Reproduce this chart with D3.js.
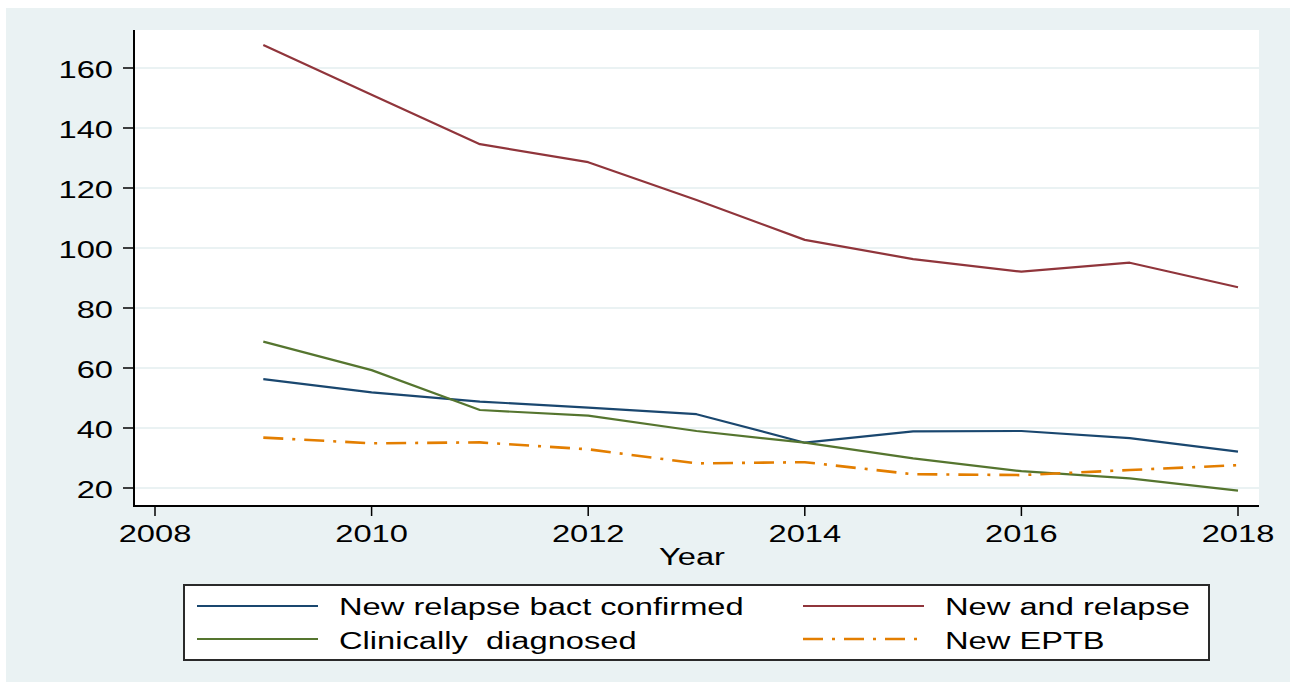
<!DOCTYPE html>
<html>
<head>
<meta charset="utf-8">
<script src="https://cdn.jsdelivr.net/npm/d3@7"></script>
<style>
  html, body { margin: 0; padding: 0; background: #ffffff; }
  svg { display: block; }
  text { font-family: "Liberation Sans", Arial, sans-serif; fill: #000; }
</style>
</head>
<body>
<svg id="chart" width="1290" height="682"></svg>
<script>
// Case notification rates by year
const years = [2009, 2010, 2011, 2012, 2013, 2014, 2015, 2016, 2017, 2018];
const bactConfirmed = [56.3, 51.9, 48.8, 46.8, 44.6, 35.1, 38.9, 39.0, 36.6, 32.1];
const newAndRelapse = [167.7, 151.1, 134.6, 128.6, 116.0, 102.7, 96.3, 92.1, 95.1, 86.9];
const clinicallyDiag = [68.8, 59.3, 46.0, 44.1, 39.0, 35.1, 29.9, 25.6, 23.2, 19.1];
const newEPTB = [36.8, 34.9, 35.2, 32.9, 28.2, 28.6, 24.6, 24.3, 26.0, 27.6];

const xTicks = [2008, 2010, 2012, 2014, 2016, 2018];
const yTicks = [20, 40, 60, 80, 100, 120, 140, 160];

const seriesNames = ["New relapse bact confirmed", "New and relapse", "Clinically  diagnosed", "New EPTB"];

const W = 1290, H = 682;
const plot = { left: 134, right: 1259, top: 30, bottom: 506 };
const stretch = 1.42; // wide glyph proportions
const fontSize = 23;

const svg = d3.select("#chart");

// graph background
svg.append("rect").attr("x", 6).attr("y", 8).attr("width", W - 6).attr("height", H - 8)
  .attr("fill", "#eaf2f3");
// plot region
svg.append("rect").attr("x", plot.left).attr("y", plot.top)
  .attr("width", plot.right - plot.left).attr("height", plot.bottom - plot.top)
  .attr("fill", "#ffffff");

const x = d3.scaleLinear().domain([2008, 2018]).range([155, 1238]);
const y = d3.scaleLinear().domain([20, 160]).range([488, 68]);

function label(g, str, px, py, anchor) {
  return g.append("text")
    .attr("transform", `translate(${px},${py}) scale(${stretch},1)`)
    .attr("text-anchor", anchor)
    .attr("font-size", fontSize)
    .text(str);
}

// gridlines
svg.append("g").selectAll("line").data(yTicks).join("line")
  .attr("x1", plot.left + 1).attr("x2", plot.right)
  .attr("y1", d => y(d)).attr("y2", d => y(d))
  .attr("stroke", "#eaf2f3").attr("stroke-width", 2);

// y axis
const yAxis = svg.append("g");
yAxis.append("line").attr("x1", plot.left).attr("x2", plot.left)
  .attr("y1", plot.top).attr("y2", plot.bottom + 1)
  .attr("stroke", "#000").attr("stroke-width", 2);
yAxis.selectAll("line.tick").data(yTicks).join("line").attr("class", "tick")
  .attr("x1", 123).attr("x2", plot.left).attr("y1", d => y(d)).attr("y2", d => y(d))
  .attr("stroke", "#000").attr("stroke-width", 1.5);
yTicks.forEach(t => label(yAxis, String(t), 113, y(t) + 10, "end"));

// x axis
const xAxis = svg.append("g");
xAxis.append("line").attr("x1", plot.left - 1).attr("x2", plot.right)
  .attr("y1", plot.bottom).attr("y2", plot.bottom)
  .attr("stroke", "#000").attr("stroke-width", 2);
xAxis.selectAll("line.tick").data(xTicks).join("line").attr("class", "tick")
  .attr("x1", d => x(d)).attr("x2", d => x(d)).attr("y1", plot.bottom).attr("y2", 516)
  .attr("stroke", "#000").attr("stroke-width", 1.5);
xTicks.forEach(t => label(xAxis, String(t), x(t), 542, "middle"));
label(xAxis, "Year", 692, 565, "middle");

// series
const series = [
  { name: seriesNames[0], values: bactConfirmed, color: "#1a476f", dash: null, w: 2.2 },
  { name: seriesNames[1], values: newAndRelapse, color: "#90353b", dash: null, w: 2.2 },
  { name: seriesNames[2], values: clinicallyDiag, color: "#55752f", dash: null, w: 2.2 },
  { name: seriesNames[3], values: newEPTB, color: "#e37e00", dash: "20,9,3,9", w: 2.6 }
];

const line = d3.line().x(d => x(d[0])).y(d => y(d[1]));
const lines = svg.append("g");
series.forEach(s => {
  lines.append("path")
    .datum(years.map((yr, i) => [yr, s.values[i]]))
    .attr("d", line)
    .attr("fill", "none")
    .attr("stroke", s.color)
    .attr("stroke-width", s.w)
    .attr("stroke-linejoin", "round")
    .attr("stroke-dasharray", s.dash);
});

// legend
const legend = svg.append("g");
legend.append("rect").attr("x", 184).attr("y", 585).attr("width", 1025).attr("height", 75)
  .attr("fill", "#ffffff").attr("stroke", "#2a2a2a").attr("stroke-width", 2);
const legendPos = [
  { s: series[0], lx: 197, ty: 615, ly: 606 },
  { s: series[1], lx: 803, ty: 615, ly: 606 },
  { s: series[2], lx: 197, ty: 649, ly: 639 },
  { s: series[3], lx: 803, ty: 649, ly: 639 }
];
legendPos.forEach(p => {
  legend.append("line").attr("x1", p.lx).attr("x2", p.lx + 121)
    .attr("y1", p.ly).attr("y2", p.ly)
    .attr("stroke", p.s.color).attr("stroke-width", p.s.w)
    .attr("stroke-dasharray", p.s.dash);
  label(legend, p.s.name, p.lx + 142, p.ty, "start").style("white-space", "pre");
});
</script>
</body>
</html>
